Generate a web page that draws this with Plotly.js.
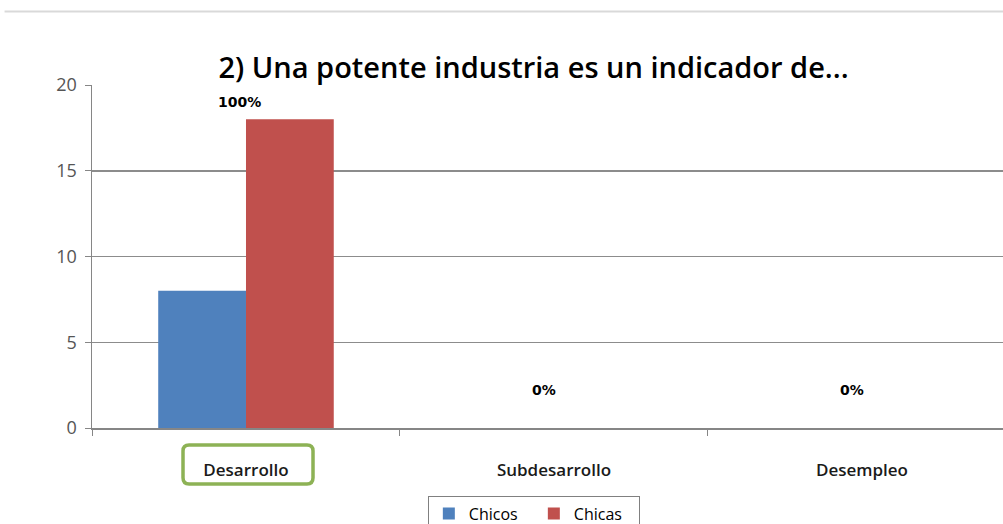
<!DOCTYPE html>
<html>
<head>
<meta charset="utf-8">
<script src="https://cdn.plot.ly/plotly-3.0.1.min.js"></script>
<style>html,body{margin:0;padding:0;background:#fff;}#chart{width:1003px;height:524px;}</style>
</head>
<body>
<div id="chart"></div>
<script>
const categories = ["Desarrollo", "Subdesarrollo", "Desempleo"];
const chicos = [8, 0, 0];
const chicas = [18, 0, 0];
const pctLabels = ["100%", "0%", "0%"];
const yTicks = [0, 5, 10, 15, 20];

const traces = [
  {type: "bar", name: "Chicos", x: categories, y: chicos, marker: {color: "#4f81bd"}},
  {type: "bar", name: "Chicas", x: categories, y: chicas, marker: {color: "#c0504d"}}
];

const annotations = categories.map((c, i) => ({
  x: i, y: chicas[i], xref: "x", yref: "y",
  text: "<b>" + pctLabels[i] + "</b>", showarrow: false,
  xshift: i === 0 ? -6 : -10,
  yshift: chicas[i] > 0 ? 17 : 38,
  font: {family: "DejaVu Sans", size: 14, color: "#000"}
}));

const layout = {
  width: 1003, height: 524,
  margin: {l: 92, r: 0, t: 85, b: 96, autoexpand: false},
  paper_bgcolor: "#ffffff", plot_bgcolor: "#ffffff",
  title: {text: "2) Una potente industria es un indicador de...",
    font: {family: "Open Sans", size: 29, color: "#000", weight: 600},
    x: 0.532, xanchor: "center", y: 0.87, yanchor: "middle"},
  barmode: "group", bargap: 0.43, bargroupgap: 0,
  showlegend: true,
  legend: {orientation: "h", x: 0.485, xanchor: "center", y: -0.197, yanchor: "top",
    bordercolor: "#808080", borderwidth: 1, font: {family: "Open Sans", size: 16, color: "#000"},
    itemwidth: 30, entrywidth: 60, traceorder: "normal"},
  xaxis: {type: "category", range: [-0.5, 2.458], showline: true, linecolor: "#868686", linewidth: 1.5,
    ticks: "outside", tickson: "boundaries", ticklen: 6, tickcolor: "#868686",
    ticklabelstandoff: 26,
    tickfont: {family: "Open Sans", size: 17, color: "#1a1a1a", weight: 600}, showgrid: false},
  yaxis: {range: [0, 20], tickvals: yTicks, showline: true, linecolor: "#868686", linewidth: 1.5,
    ticks: "outside", ticklen: 6, tickcolor: "#868686", gridcolor: "#8c8c8c", gridwidth: 1.5,
    ticklabelstandoff: 4,
    tickfont: {family: "Open Sans", size: 18, color: "#555"}, zeroline: false},
  annotations: annotations,
  shapes: [
    {type: "line", xref: "paper", yref: "paper", x0: -0.096, x1: 1, y0: 1.214, y1: 1.214,
      line: {color: "#d9d9d9", width: 2}},
    {type: "path", xref: "paper", yref: "paper",
      path: "M 0.1066 -0.0496 L 0.2360 -0.0496 Q 0.2426 -0.0496 0.2426 -0.067 L 0.2426 -0.145 Q 0.2426 -0.163 0.2360 -0.163 L 0.1066 -0.163 Q 0.0999 -0.163 0.0999 -0.145 L 0.0999 -0.067 Q 0.0999 -0.0496 0.1066 -0.0496 Z",
      line: {color: "#8db255", width: 3.5}}
  ]
};

Plotly.newPlot("chart", traces, layout, {displayModeBar: false, staticPlot: true});
</script>
</body>
</html>
